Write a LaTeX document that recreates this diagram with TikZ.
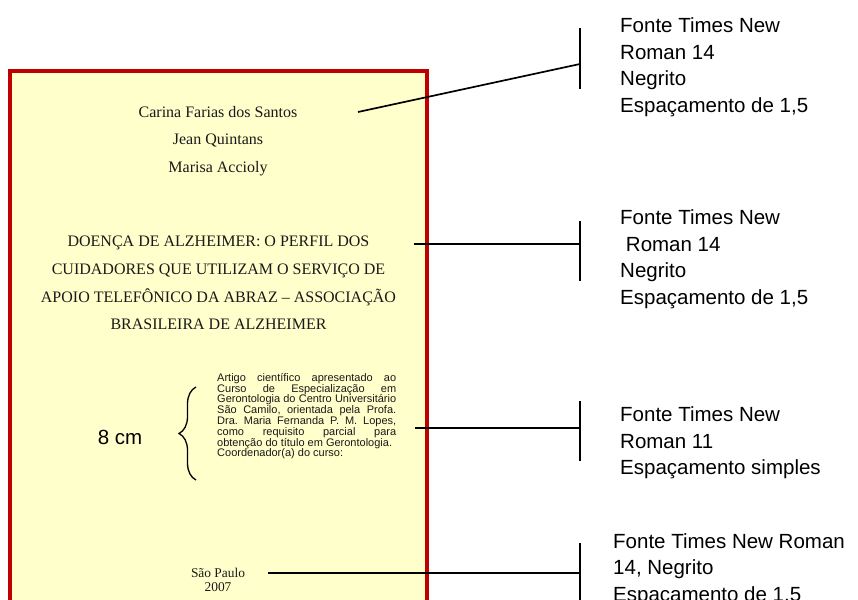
\documentclass[tikz,border=0pt]{standalone}
\usepackage{fontspec}
\setmainfont{Liberation Serif}
\newfontfamily\arialf{Liberation Sans}
\usetikzlibrary{decorations.pathreplacing}
\definecolor{pagefill}{HTML}{FFFFCC}
\definecolor{pagered}{HTML}{C00000}
\tikzset{
  x=1pt, y=-1pt,
  conn/.style={draw=black, line width=1.7pt},
  tickline/.style={draw=black, line width=1.7pt},
  serifline/.style={font=\fontsize{16}{20}\selectfont, inner sep=0pt, anchor=base, text=black!90},
  label/.style={font=\arialf\fontsize{20.5}{26.5}\selectfont, align=left, inner sep=0pt, anchor=north west, text=black},
  small/.style={font=\arialf\fontsize{11}{10.8}\selectfont, align=left, inner sep=0pt, anchor=north west, text=black!90},
}
\newcommand{\jline}[1]{\hbox to 179pt{#1}}
\begin{document}
\begin{tikzpicture}
\useasboundingbox (0,0) rectangle (858,599);
\clip (0,0) rectangle (858,599);
% page
\draw[pagered, fill=pagefill, line width=4pt] (10,71) rectangle (426.5,640);

% authors
\node[serifline] (au1) at (218,117.5) {Carina Farias dos Santos};
\node[serifline] (au2) at (218,144.5) {Jean Quintans};
\node[serifline] (au3) at (218,172) {Marisa Accioly};

% title
\node[serifline] (ti1) at (218.5,246) {DOENÇA DE ALZHEIMER: O PERFIL DOS};
\node[serifline] (ti2) at (218.5,274) {CUIDADORES QUE UTILIZAM O SERVIÇO DE};
\node[serifline] (ti3) at (218.5,302) {APOIO TELEFÔNICO DA ABRAZ – ASSOCIAÇÃO};
\node[serifline] (ti4) at (218.5,329.5) {BRASILEIRA DE ALZHEIMER};

% small paragraph
\node[small] (para) at (217,373) {%
\jline{Artigo\hfil científico\hfil apresentado\hfil ao}\\
\jline{Curso\hfil de\hfil Especialização\hfil em}\\
\jline{Gerontologia\hfil do\hfil Centro\hfil Universitário}\\
\jline{São\hfil Camilo,\hfil orientada\hfil pela\hfil Profa.}\\
\jline{Dra.\hfil Maria\hfil Fernanda\hfil P.\hfil M.\hfil Lopes,}\\
\jline{como\hfil requisito\hfil parcial\hfil para}\\
obtenção do título em Gerontologia.\\
Coordenador(a) do curso:};

% 8 cm and brace
\node[font=\arialf\fontsize{20.5}{24}\selectfont, inner sep=0pt, text=black] (cm) at (120,437) {8 cm};
\coordinate (bb) at (196,480);
\coordinate (bt) at (196,387);
\draw[line width=1.3pt, decorate, decoration={brace, amplitude=17pt}] (bb) -- (bt);

% place
\node[font=\fontsize{13.4}{14}\selectfont, inner sep=0pt, anchor=base, text=black!90] (sp) at (218,577) {São Paulo};
\node[font=\fontsize{13.4}{14}\selectfont, inner sep=0pt, anchor=base, text=black!90] (yr) at (218,591) {2007};

% right labels
\node[label] (l1) at (620,17.5) {Fonte Times New\\Roman 14\\Negrito\\Espaçamento de 1,5};
\node[label] (l2) at (620,209.5) {Fonte Times New\\\hspace*{0.28em}Roman 14\\Negrito\\Espaçamento de 1,5};
\node[label] (l3) at (620,406.5) {Fonte Times New\\Roman 11\\Espaçamento simples};
\node[label] (l4) at (613,533) {Fonte Times New Roman\\14, Negrito\\Espaçamento de 1,5};

% connectors
\coordinate (s1) at (358,112);
\coordinate (k1) at (580,64);
\coordinate (k1t) at (580,28);
\coordinate (k1b) at (580,89);
\draw[conn] (s1) -- (k1);
\draw[tickline] (k1t) -- (k1b);

\coordinate (s2) at (414,244);
\coordinate (k2) at (580,244);
\coordinate (k2t) at (580,221);
\coordinate (k2b) at (580,281);
\draw[conn] (s2) -- (k2);
\draw[tickline] (k2t) -- (k2b);

\coordinate (s3) at (415,428);
\coordinate (k3) at (580,428);
\coordinate (k3t) at (580,401);
\coordinate (k3b) at (580,461);
\draw[conn] (s3) -- (k3);
\draw[tickline] (k3t) -- (k3b);

\coordinate (s4) at (268,573);
\coordinate (k4) at (580,573);
\coordinate (k4t) at (580,543);
\coordinate (k4b) at (580,610);
\draw[conn] (s4) -- (k4);
\draw[tickline] (k4t) -- (k4b);
\end{tikzpicture}
\end{document}
